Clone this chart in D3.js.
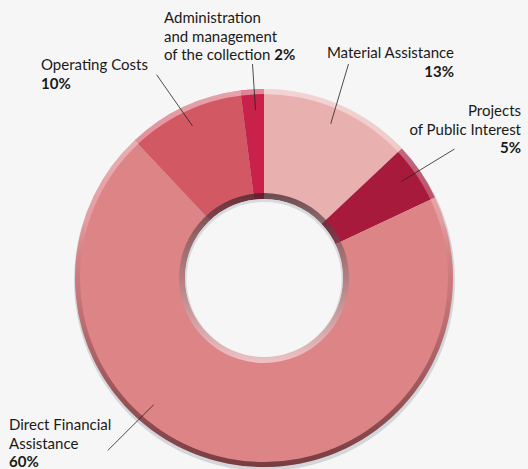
<!DOCTYPE html>
<html>
<head>
<meta charset="utf-8">
<script src="https://cdn.jsdelivr.net/npm/d3@7"></script>
<style>
  html, body { margin: 0; padding: 0; background: #f6f6f6; }
  svg { display: block; }
  text { font-family: Lato, "Open Sans", sans-serif; fill: #1a1a1a; }
</style>
</head>
<body>
<svg id="chart" width="528" height="469"></svg>
<script>
// ---- data ----
const categories = ["Material Assistance", "Projects of Public Interest", "Direct Financial Assistance", "Operating Costs", "Administration and management of the collection"];
const shares = [13, 5, 70, 10, 2];               // slice sizes as drawn
const shareLabels = ["13%", "5%", "60%", "10%", "2%"]; // printed labels
const sliceColors = ["#e9b0b0", "#a81a3c", "#dd8487", "#d25864", "#c9224a"];
const labelLines = [
  ["Material Assistance"],
  ["Projects", "of Public Interest"],
  ["Direct Financial", "Assistance"],
  ["Operating Costs"],
  ["Administration", "and management", "of the collection"]
];

// ---- layout ----
const W = 528, H = 469;
const cx = 264, cy = 278;
const rOuter = 189, rInner = 79, rHole = 85;
const svg = d3.select("#chart");
const defs = svg.append("defs");

const gOuter = defs.append("linearGradient").attr("id", "gOuter")
  .attr("gradientUnits", "userSpaceOnUse").attr("x1", 0).attr("x2", 0)
  .attr("y1", -rOuter).attr("y2", rOuter);
[[0, "#ffffff", 0.45], [0.35, "#ffffff", 0.2], [0.5, "#5a3035", 0.12], [0.75, "#4a1a20", 0.38], [1, "#3a1015", 0.62]]
  .forEach(s => gOuter.append("stop").attr("offset", s[0]).attr("stop-color", s[1]).attr("stop-opacity", s[2]));

const gHole = defs.append("linearGradient").attr("id", "gHole")
  .attr("gradientUnits", "userSpaceOnUse").attr("x1", 0).attr("x2", 0)
  .attr("y1", -rHole).attr("y2", rHole);
[[0, "#321c22", 0.68], [0.5, "#8a7a7c", 0.5], [1, "#ffffff", 0.5]]
  .forEach(s => gHole.append("stop").attr("offset", s[0]).attr("stop-color", s[1]).attr("stop-opacity", s[2]));

const g = svg.append("g").attr("transform", `translate(${cx},${cy})`);

g.append("circle").attr("cx", 0.5).attr("cy", 2.5).attr("r", rOuter + 1.5).attr("fill", "#d4d7d9");

const pie = d3.pie().sort(null).value(d => d);
const arcs = pie(shares);
const arc = d3.arc().innerRadius(rInner).outerRadius(rOuter);

g.selectAll("path.slice").data(arcs).join("path")
  .attr("class", "slice")
  .attr("d", arc)
  .attr("fill", (d, i) => sliceColors[i]);

g.append("path")
  .attr("d", d3.arc().innerRadius(rOuter - 5).outerRadius(rOuter).startAngle(0).endAngle(2 * Math.PI)())
  .attr("fill", "url(#gOuter)");

g.append("path")
  .attr("d", d3.arc().innerRadius(rInner).outerRadius(rHole).startAngle(0).endAngle(2 * Math.PI)())
  .attr("fill", "url(#gHole)");
g.append("circle").attr("r", rInner).attr("fill", "#d8dbdd");
g.append("circle").attr("cx", 0).attr("cy", 1.5).attr("r", rInner - 1.5).attr("fill", "#f6f6f6");

// ---- labels ----
const labelLayout = [
  { x: 454, y: 58, anchor: "end", pctLine: true, lead: [348.5, 64], leadFrac: 0.5 },
  { x: 521, y: 116, anchor: "end", pctLine: true, lead: [454.5, 149], leadFrac: 0.45 },
  { x: 9, y: 430, anchor: "start", pctLine: true, lead: [107.7, 450.5], leadFrac: 0.62 },
  { x: 41, y: 70, anchor: "start", pctLine: true, lead: [156.6, 74.7], leadFrac: 0.5 },
  { x: 164, y: 23, anchor: "start", pctLine: false, lead: [252.5, 64], leadFrac: 0.6 }
];
const lineH = 18.5;
const leadR = 168;

arcs.forEach((a, i) => {
  const L = labelLayout[i];
  const t = svg.append("text").attr("x", L.x).attr("y", L.y).attr("text-anchor", L.anchor)
    .style("font-size", "15px");
  labelLines[i].forEach((ln, k) => {
    const ts = t.append("tspan").attr("x", L.x).attr("dy", k === 0 ? 0 : lineH).text(ln);
    if (!L.pctLine && k === labelLines[i].length - 1) {
      ts.text(ln + " ");
      t.append("tspan").style("font-weight", "bold").text(shareLabels[i]);
    }
  });
  if (L.pctLine) {
    t.append("tspan").attr("x", L.x).attr("dy", lineH).style("font-weight", "bold").text(shareLabels[i]);
  }
  const ang = a.startAngle + (a.endAngle - a.startAngle) * L.leadFrac;
  const px = cx + leadR * Math.sin(ang), py = cy - leadR * Math.cos(ang);
  svg.append("line").attr("x1", L.lead[0]).attr("y1", L.lead[1]).attr("x2", px).attr("y2", py)
    .attr("stroke", "#222").attr("stroke-width", 0.8);
});
</script>
</body>
</html>
